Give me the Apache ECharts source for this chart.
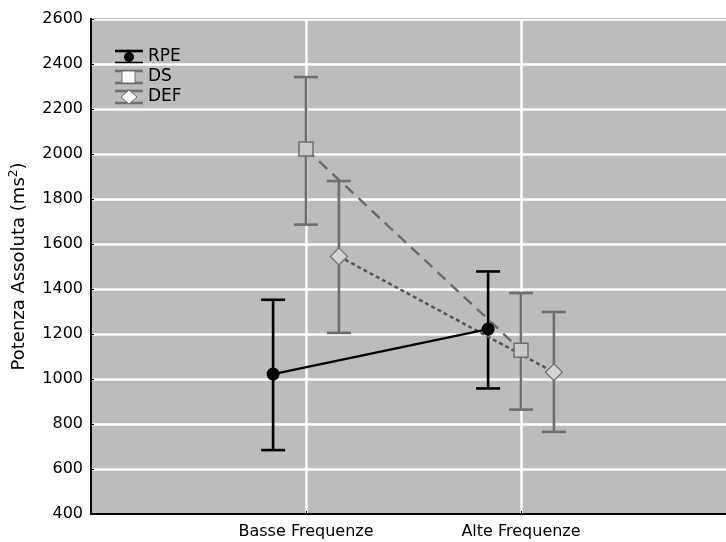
<!DOCTYPE html>
<html>
<head>
<meta charset="utf-8">
<script src="https://cdn.jsdelivr.net/npm/echarts@6/dist/echarts.min.js"></script>
<style>
  html, body { margin: 0; padding: 0; background: #fff; }
  #chart { width: 726px; height: 542px; }
</style>
</head>
<body>
<div id="chart"></div>
<script>
// Frequency bands on the x axis
const categories = ['Basse Frequenze', 'Alte Frequenze'];

// Group means with the lower / upper ends of their error bars
const rpeMean = [1022, 1222];
const rpeLow  = [684, 958];
const rpeHigh = [1352, 1478];

const dsMean = [2022, 1128];
const dsLow  = [1686, 864];
const dsHigh = [2342, 1382];

const defMean = [1545, 1030];
const defLow  = [1205, 765];
const defHigh = [1880, 1298];

// y-axis ticks
const yMin = 400, yMax = 2600, yStep = 200;

const FONT = 'DejaVu Sans';
const GRAY = '#6e6e6e';

// horizontal shift of each group around the band position
const OFFSET = { RPE: -0.153, DS: 0, DEF: 0.153 };

function points(means, shift) {
  return means.map((v, i) => [i + 1 + shift, v]);
}
function bars(lows, highs, shift) {
  return lows.map((lo, i) => [i + 1 + shift, lo, highs[i]]);
}

function errorBarSeries(name, lows, highs, shift, color) {
  return {
    name: name + ' err',
    type: 'custom',
    z: 2,
    data: bars(lows, highs, shift),
    encode: { x: 0, y: [1, 2] },
    silent: true,
    renderItem: function (params, api) {
      const x = api.value(0);
      const top = api.coord([x, api.value(2)]);
      const bot = api.coord([x, api.value(1)]);
      const half = 12;
      const st = { stroke: color, lineWidth: 2.6 };
      return {
        type: 'group',
        children: [
          { type: 'line', shape: { x1: top[0], y1: top[1], x2: bot[0], y2: bot[1] }, style: st },
          { type: 'line', shape: { x1: top[0] - half, y1: top[1], x2: top[0] + half, y2: top[1] }, style: st },
          { type: 'line', shape: { x1: bot[0] - half, y1: bot[1], x2: bot[0] + half, y2: bot[1] }, style: st }
        ]
      };
    }
  };
}

// legend drawn as small error-bar glyphs with their marker
function legendItem(y, label, color, marker) {
  const x0 = 115, x1 = 143, cx = 129;
  const st = { stroke: color, lineWidth: 2.6 };
  const kids = [
    { type: 'line', shape: { x1: x0, y1: y - 6, x2: x1, y2: y - 6 }, style: st },
    { type: 'line', shape: { x1: x0, y1: y + 6, x2: x1, y2: y + 6 }, style: st },
    { type: 'line', shape: { x1: cx, y1: y - 6, x2: cx, y2: y + 6 }, style: st },
    marker,
    { type: 'text', x: 148, y: y, style: { text: label, font: '17px "' + FONT + '"', fill: '#000', textVerticalAlign: 'middle' } }
  ];
  return { type: 'group', children: kids };
}

const chart = echarts.init(document.getElementById('chart'), null, { renderer: 'canvas' });

chart.setOption({
  animation: false,
  backgroundColor: '#ffffff',
  grid: {
    left: 91, top: 19, width: 645, height: 495,
    containLabel: false,
    outerBoundsMode: 'none',
    show: true,
    backgroundColor: '#bcbcbc',
    borderColor: '#000',
    borderWidth: 2
  },
  xAxis: {
    type: 'value',
    min: 0, max: 3, interval: 1,
    axisLine: { show: true, lineStyle: { color: '#000', width: 2 } },
    axisTick: { show: true, inside: true, length: 3, lineStyle: { color: '#000' } },
    splitLine: { show: true, lineStyle: { color: ['rgba(0,0,0,0)', '#ffffff', '#ffffff', 'rgba(0,0,0,0)'], width: 2.5 } },
    axisLabel: {
      margin: 10,
      color: '#000',
      fontFamily: FONT,
      fontSize: 16,
      formatter: function (v) { return categories[Math.round(v) - 1] || ''; }
    }
  },
  yAxis: {
    type: 'value',
    min: yMin, max: yMax, interval: yStep,
    name: 'Potenza Assoluta (ms{s|2})',
    nameLocation: 'middle',
    nameGap: 61,
    nameTextStyle: {
      color: '#000',
      fontFamily: FONT,
      fontSize: 18,
      rich: { s: { fontSize: 12, fontFamily: FONT, color: '#000', padding: [0, 0, 10, 0] } }
    },
    axisLine: { show: true, lineStyle: { color: '#000', width: 2 } },
    axisTick: { show: true, inside: true, length: 3, lineStyle: { color: '#000' } },
    splitLine: { show: true, lineStyle: { color: '#ffffff', width: 2.5 } },
    axisLabel: {
      margin: 8, color: '#000', fontFamily: FONT, fontSize: 16,
      formatter: function (v) { return String(v); }
    }
  },
  series: [
    errorBarSeries('RPE', rpeLow, rpeHigh, OFFSET.RPE, '#000'),
    errorBarSeries('DS', dsLow, dsHigh, OFFSET.DS, GRAY),
    errorBarSeries('DEF', defLow, defHigh, OFFSET.DEF, GRAY),
    {
      name: 'DS', type: 'line', z: 3,
      data: points(dsMean, OFFSET.DS),
      symbol: 'rect', symbolSize: 14,
      lineStyle: { color: '#6a6a6a', width: 2.4, type: [11, 7] },
      itemStyle: { color: '#c9c9c9', borderColor: GRAY, borderWidth: 1.5 }
    },
    {
      name: 'DEF', type: 'line', z: 3,
      data: points(defMean, OFFSET.DEF),
      symbol: 'diamond', symbolSize: 17,
      lineStyle: { color: '#555555', width: 2.5, type: [4, 3] },
      itemStyle: { color: '#d4d4d4', borderColor: GRAY, borderWidth: 1.2 }
    },
    {
      name: 'RPE', type: 'line', z: 4,
      data: points(rpeMean, OFFSET.RPE),
      symbol: 'circle', symbolSize: 13,
      lineStyle: { color: '#000', width: 2.4 },
      itemStyle: { color: '#000' }
    }
  ],
  graphic: [
    legendItem(57, 'RPE', '#000', { type: 'circle', shape: { cx: 129, cy: 57, r: 5 }, style: { fill: '#000' } }),
    legendItem(77, 'DS', GRAY, { type: 'rect', shape: { x: 122, y: 71, width: 13, height: 12 }, style: { fill: '#fff', stroke: GRAY, lineWidth: 1 } }),
    legendItem(97, 'DEF', GRAY, { type: 'polygon', shape: { points: [[129, 90], [137, 97], [129, 104], [121, 97]] }, style: { fill: '#fff', stroke: GRAY, lineWidth: 1 } })
  ]
});
</script>
</body>
</html>
